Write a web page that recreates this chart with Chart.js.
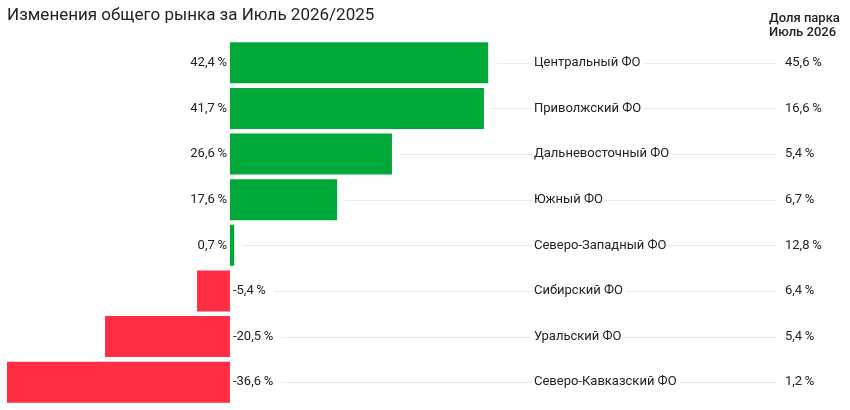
<!DOCTYPE html>
<html>
<head>
<meta charset="utf-8">
<script src="https://cdn.jsdelivr.net/npm/chart.js"></script>
<style>
  body { margin: 0; background: #fff; }
  #wrap { width: 850px; height: 410px; position: relative; }
</style>
</head>
<body>
<div id="wrap"><canvas id="chart-0"></canvas></div>
<script>
var regions = ["Центральный ФО", "Приволжский ФО", "Дальневосточный ФО", "Южный ФО",
               "Северо-Западный ФО", "Сибирский ФО", "Уральский ФО", "Северо-Кавказский ФО"];
var changes = [42.4, 41.7, 26.6, 17.6, 0.7, -5.4, -20.5, -36.6];
var parkShare = [45.6, 16.6, 5.4, 6.7, 12.8, 6.4, 5.4, 1.2];

var FONT = "Roboto, 'Noto Sans', sans-serif";

function pct(v) {
    return v.toFixed(1).replace(".", ",") + "\u2009%";
}

// labels, grid lines and the right hand column
var sideText = {
    id: "sideText",
    afterDatasetsDraw: function (chart) {
        var ctx = chart.ctx;
        var x = chart.scales.x, y = chart.scales.y;
        var meta = chart.getDatasetMeta(0);
        var zero = x.getPixelForValue(0);
        ctx.save();

        // title
        ctx.fillStyle = "#222";
        ctx.font = "17px " + FONT;
        ctx.textAlign = "left";
        ctx.textBaseline = "middle";
        ctx.fillText("Изменения общего рынка за Июль 2026/2025", 7, 16);

        // header of share column
        ctx.font = "500 13px " + FONT;
        ctx.fillText("Доля парка", 769, 19);
        ctx.fillText("Июль 2026", 769, 33);

        ctx.font = "13px " + FONT;
        for (var i = 0; i < changes.length; i++) {
            var cy = y.getPixelForValue(i);
            var v = changes[i];
            var bar = meta.data[i];
            var lineStart;
            ctx.fillStyle = "#222";
            if (v >= 0) {
                ctx.textAlign = "right";
                ctx.fillText(pct(v), zero - 3, cy);
                lineStart = bar.x + 8;
            } else {
                ctx.textAlign = "left";
                ctx.fillText(pct(v), zero + 3, cy);
                lineStart = zero + 3 + ctx.measureText(pct(v)).width + 8;
            }
            // grid line
            ctx.strokeStyle = "#ebebeb";
            ctx.lineWidth = 1;
            ctx.beginPath();
            ctx.moveTo(lineStart, Math.round(cy) + 0.5);
            ctx.lineTo(776, Math.round(cy) + 0.5);
            ctx.stroke();

            // region name over line
            var w = ctx.measureText(regions[i]).width;
            ctx.fillStyle = "#fff";
            ctx.fillRect(532, cy - 8, w + 5, 16);
            ctx.fillStyle = "#222";
            ctx.textAlign = "left";
            ctx.fillText(regions[i], 534, cy);

            // share value
            ctx.fillText(pct(parkShare[i]), 785, cy);
        }
        ctx.restore();
    }
};

new Chart(document.getElementById("chart-0"), {
    type: "bar",
    data: {
        labels: regions,
        datasets: [{
            data: changes,
            backgroundColor: changes.map(function (v) { return v >= 0 ? "#00a83a" : "#ff2e44"; }),
            borderWidth: 0,
            barPercentage: 0.9,
            categoryPercentage: 1
        }]
    },
    options: {
        indexAxis: "y",
        responsive: true,
        maintainAspectRatio: false,
        animation: false,
        layout: { padding: { left: 7, right: 315.5, top: 40, bottom: 5 } },
        scales: {
            x: { display: false, min: -36.6, max: 50 },
            y: { display: false }
        },
        plugins: {
            legend: { display: false },
            tooltip: { enabled: false }
        }
    },
    plugins: [sideText]
});
</script>
</body>
</html>
